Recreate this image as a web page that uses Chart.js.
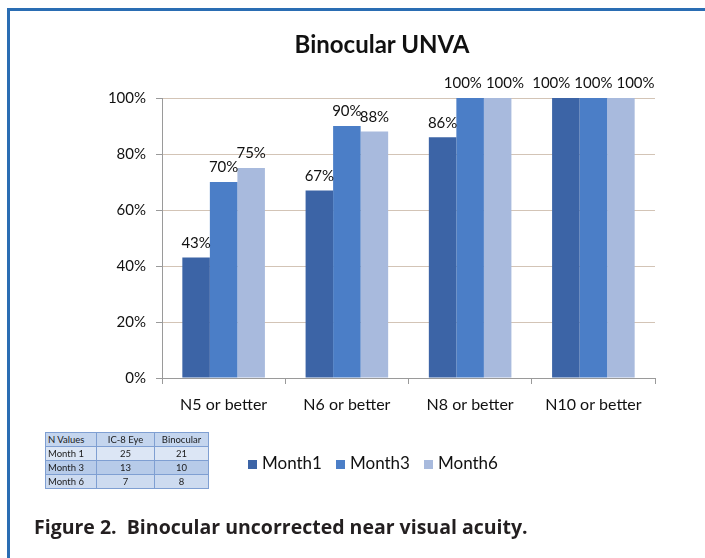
<!DOCTYPE html>
<html>
<head>
<meta charset="utf-8">
<script src="https://cdn.jsdelivr.net/npm/chart.js@4"></script>
<style>
  body { margin: 0; background: #fff; width: 705px; height: 558px; overflow: hidden; position: relative; }
  #frame { position: absolute; left: 7px; top: 8px; width: 720px; height: 560px; border-left: 3px solid #2a6db3; border-top: 3px solid #2a6db3; }
  #wrap { position: absolute; left: 0; top: 0; width: 705px; height: 558px; }
  #title { position: absolute; left: 232px; width: 300px; top: 29px; text-align: center; font-family: "Lato", sans-serif; font-weight: bold; font-size: 24px; color: #111; }
  #nTable { position: absolute; left: 45px; top: 432px; border-collapse: collapse; font-family: "Lato", sans-serif; font-size: 9.5px; color: #1a1a1a; table-layout: fixed; }
  #nTable td { border: 1px solid #7f9fd2; height: 13px; padding: 0 2px; text-align: center; overflow: hidden; white-space: nowrap; }
  #nTable td:first-child { text-align: left; }
  #legend { position: absolute; left: 248px; top: 452px; font-family: "Lato", sans-serif; font-size: 17px; color: #111; display: flex; }
  #legend > div { width: 88px; white-space: nowrap; }
  #legend span.sw { display: inline-block; width: 9px; height: 9px; margin-right: 5px; }
  #caption { position: absolute; left: 34px; top: 513px; font-family: "Open Sans", sans-serif; font-weight: bold; font-size: 19.5px; color: #231f20; white-space: pre; }
</style>
</head>
<body>
<div id="frame"></div>
<div id="wrap"><canvas id="chart"></canvas></div>
<div id="title">Binocular UNVA</div>
<table id="nTable"></table>
<div id="legend"></div>
<div id="caption">Figure 2.  Binocular uncorrected near visual acuity.</div>
<script>
// ==========================
// Data
// ==========================
const categories = ["N5 or better", "N6 or better", "N8 or better", "N10 or better"];
const seriesNames = ["Month1", "Month3", "Month6"];
const month1 = [43, 67, 86, 100];
const month3 = [70, 90, 100, 100];
const month6 = [75, 88, 100, 100];
const barColors = ["#3c64a6", "#4b7ec7", "#a8badd"];
const yTicks = [0, 20, 40, 60, 80, 100];

// little table of N values shown under the chart
const tableHeader = ["N Values", "IC-8 Eye", "Binocular"];
const tableRows = ["Month 1", "Month 3", "Month 6"];
const ic8Eye = [25, 13, 7];
const binocular = [21, 10, 8];
const rowColors = ["#c4d5ee", "#dce6f5", "#b7cbe9", "#cddbf0"];

// ==========================
// Table + legend (html)
// ==========================
const table = document.getElementById("nTable");
let html = "<tr style='background:" + rowColors[0] + "'>" + tableHeader.map(h => "<td>" + h + "</td>").join("") + "</tr>";
tableRows.forEach((r, i) => {
    html += "<tr style='background:" + rowColors[i + 1] + "'><td style='width:46px'>" + r + "</td><td style='width:53px'>" + ic8Eye[i] + "</td><td style='width:49px'>" + binocular[i] + "</td></tr>";
});
table.innerHTML = html;

document.getElementById("legend").innerHTML = seriesNames.map((s, i) =>
    "<div><span class='sw' style='background:" + barColors[i] + "'></span>" + s + "</div>").join("");

// ==========================
// Value labels on top of bars
// (labels at the same height get pushed apart so they don't collide)
// ==========================
const valueLabels = {
    id: "valueLabels",
    afterDatasetsDraw(chart) {
        const ctx = chart.ctx;
        ctx.save();
        ctx.font = "15px Lato";
        ctx.fillStyle = "#111";
        ctx.textAlign = "center";
        ctx.textBaseline = "bottom";
        const gap = 4;
        chart.data.labels.forEach((c, j) => {
            const items = chart.data.datasets.map((ds, i) => {
                const bar = chart.getDatasetMeta(i).data[j];
                const text = ds.data[j] + "%";
                return { text: text, x: bar.x, y: bar.y, w: ctx.measureText(text).width };
            });
            // group runs of labels that sit at the same height and overlap
            let k = 0;
            while (k < items.length) {
                let run = [items[k]];
                while (k + run.length < items.length) {
                    const a = run[run.length - 1], b = items[k + run.length];
                    if (Math.abs(a.y - b.y) < 1 && (b.x - a.x) < (a.w + b.w) / 2 + gap) run.push(b);
                    else break;
                }
                if (run.length > 1) {
                    const total = run.reduce((s, it) => s + it.w, 0) + gap * (run.length - 1);
                    const mid = run.reduce((s, it) => s + it.x, 0) / run.length;
                    let x = mid - total / 2;
                    run.forEach(it => { it.x = x + it.w / 2; x += it.w + gap; });
                }
                k += run.length;
            }
            items.forEach(it => ctx.fillText(it.text, it.x, it.y - 7));
        });
        ctx.restore();
    }
};

// ==========================
// Chart
// ==========================
const seriesData = [month1, month3, month6];

new Chart(document.getElementById("chart"), {
    type: "bar",
    data: {
        labels: categories,
        datasets: seriesNames.map((name, i) => ({
            label: name,
            data: seriesData[i],
            backgroundColor: barColors[i],
            categoryPercentage: 0.67,
            barPercentage: 1.0
        }))
    },
    options: {
        responsive: true,
        maintainAspectRatio: false,
        animation: false,
        layout: { padding: { left: 0, right: 50, top: 98, bottom: 140 } },
        plugins: {
            legend: { display: false },
            tooltip: { enabled: false },
            title: { display: false }
        },
        scales: {
            x: {
                grid: { drawOnChartArea: false, drawTicks: true, tickLength: 6, color: "#9a9a9a" },
                border: { color: "#9a9a9a" },
                ticks: { font: { family: "Lato", size: 16 }, color: "#111", padding: 11 },
                afterFit(scale) { scale.height = 40; }
            },
            y: {
                min: 0,
                max: 100,
                afterBuildTicks(scale) { scale.ticks = yTicks.map(v => ({ value: v })); },
                grid: { color: "#d3c4b6", tickColor: "#9a9a9a", tickLength: 6 },
                border: { color: "#9a9a9a" },
                ticks: {
                    font: { family: "Lato", size: 15 },
                    color: "#111",
                    padding: 10,
                    callback: v => v + "%"
                },
                afterFit(scale) { scale.width = 162; }
            }
        }
    },
    plugins: [valueLabels]
});
</script>
</body>
</html>
